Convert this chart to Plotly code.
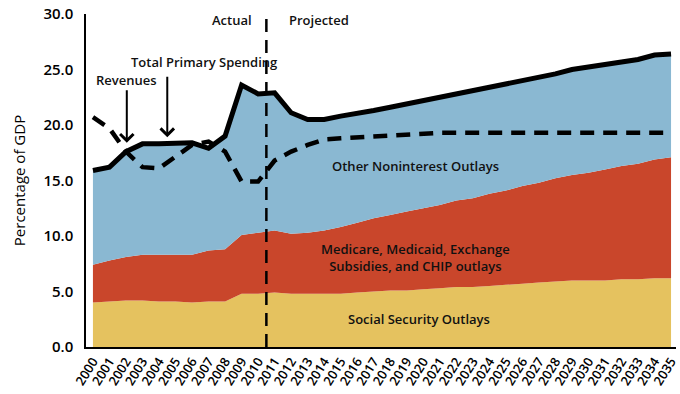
import plotly.graph_objects as go

years = list(range(2000, 2036))

# Outlays by component, percent of GDP
social_security = [4.0, 4.1, 4.2, 4.2, 4.1, 4.1, 4.0, 4.1, 4.1, 4.8, 4.8, 4.9, 4.8, 4.8, 4.8, 4.8,
                   4.9, 5.0, 5.1, 5.1, 5.2, 5.3, 5.4, 5.4, 5.5, 5.6, 5.7, 5.8, 5.9, 6.0, 6.0,
                   6.0, 6.1, 6.1, 6.2, 6.2]
health_programs = [3.4, 3.7, 3.9, 4.1, 4.2, 4.2, 4.3, 4.6, 4.7, 5.3, 5.5, 5.6, 5.4, 5.5, 5.7, 6.0,
                   6.3, 6.6, 6.8, 7.1, 7.3, 7.5, 7.8, 8.0, 8.3, 8.5, 8.8, 9.0, 9.3, 9.5, 9.7,
                   10.0, 10.2, 10.4, 10.7, 10.9]
total_primary_spending = [15.9, 16.2, 17.6, 18.3, 18.3, 18.4, 18.4, 17.9, 19.0, 23.6, 22.8, 22.9,
                          21.1, 20.5, 20.5, 20.8, 21.0, 21.3, 21.6, 21.9, 22.2, 22.4, 22.8, 23.0,
                          23.3, 23.6, 24.0, 24.2, 24.6, 25.0, 25.2, 25.4, 25.7, 25.9, 26.3, 26.4]
revenues = [20.7, 19.7, 17.6, 16.2, 16.1, 17.2, 18.2, 18.5, 17.6, 14.9, 14.9, 16.8, 17.6, 18.2,
            18.7, 18.8, 18.9, 19.0, 19.1, 19.2, 19.3, 19.3, 19.3, 19.3, 19.3, 19.3, 19.3, 19.3,
            19.3, 19.3, 19.3, 19.3, 19.3, 19.3, 19.3, 19.3]

other_outlays = [round(t - s - h, 2) for t, s, h in zip(total_primary_spending, social_security, health_programs)]

y_ticks = [0, 5, 10, 15, 20, 25, 30]
y_tick_labels = ["0.0", "5.0", "10.0", "15.0", "20.0", "25.0", "30.0"]

split_year = 2010.5

YELLOW = "#E5C25F"
RED = "#C9462B"
BLUE = "#8AB8D2"
FONT = "Open Sans"

fig = go.Figure()

for name, vals, col in [("Social Security Outlays", social_security, YELLOW),
                        ("Health programs", health_programs, RED),
                        ("Other Noninterest Outlays", other_outlays, BLUE)]:
    fig.add_trace(go.Scatter(x=years, y=vals, stackgroup="outlays", mode="none",
                             fillcolor=col, name=name, hoverinfo="skip"))

fig.add_trace(go.Scatter(x=years, y=total_primary_spending, mode="lines",
                         line=dict(color="black", width=5), name="Total Primary Spending"))
fig.add_trace(go.Scatter(x=years, y=revenues, mode="lines",
                         line=dict(color="black", width=4.5, dash="14px,9px"), name="Revenues"))

# Actual / projected divider
fig.add_shape(type="line", x0=split_year, x1=split_year, y0=0, y1=30.4,
              xref="x", yref="y", line=dict(color="black", width=2.5, dash="13px,8px"))

text_font = dict(family=FONT, size=13, color="#111111", weight=600)
annotations = [
    dict(x=2009.75, y=29.45, text="Actual", showarrow=False, xanchor="right"),
    dict(x=2011.75, y=29.45, text="Projected", showarrow=False, xanchor="left"),
    dict(x=2002.05, y=18.4, text="Revenues", showarrow=True, ax=0, ay=-63,
         arrowhead=4, arrowsize=1.3, arrowwidth=2, arrowcolor="black"),
    dict(x=2006.7, y=25.7, text="Total Primary Spending", showarrow=False),
    dict(x=2004.5, y=18.9, text="", showarrow=True, ax=0, ay=-62,
         arrowhead=4, arrowsize=1.3, arrowwidth=2, arrowcolor="black"),
    dict(x=2019.55, y=16.35, text="Other Noninterest Outlays", showarrow=False),
    dict(x=2019.55, y=8.05, text="Medicare, Medicaid, Exchange<br>Subsidies, and CHIP outlays",
         showarrow=False),
    dict(x=2019.75, y=2.5, text="Social Security Outlays", showarrow=False),
]
for a in annotations:
    a.update(xref="x", yref="y", font=text_font)
fig.update_layout(annotations=annotations)

fig.update_layout(
    width=680, height=394,
    margin=dict(l=86, r=0, t=14, b=47),
    paper_bgcolor="white", plot_bgcolor="white",
    showlegend=False,
    font=dict(family=FONT, color="black"),
    xaxis=dict(range=[1999.58, 2035.3], tickmode="array", tickvals=years,
               ticktext=[str(y) for y in years], tickangle=-58,
               tickfont=dict(family=FONT, size=13, color="black", weight=600),
               ticklabeloverflow="allow",
               showgrid=False, zeroline=False, showline=True, linecolor="black",
               linewidth=1.5, ticks=""),
    yaxis=dict(range=[0, 30], tickmode="array", tickvals=y_ticks, ticktext=y_tick_labels,
               tickfont=dict(family=FONT, size=15, color="black", weight=600),
               showgrid=False, zeroline=False, showline=True, linecolor="black",
               linewidth=1.5, ticks="", ticklabelstandoff=8,
               title=dict(text="Percentage of GDP", standoff=14,
                          font=dict(family=FONT, size=15, color="black", weight=500))),
)

fig.write_html("out.html")
